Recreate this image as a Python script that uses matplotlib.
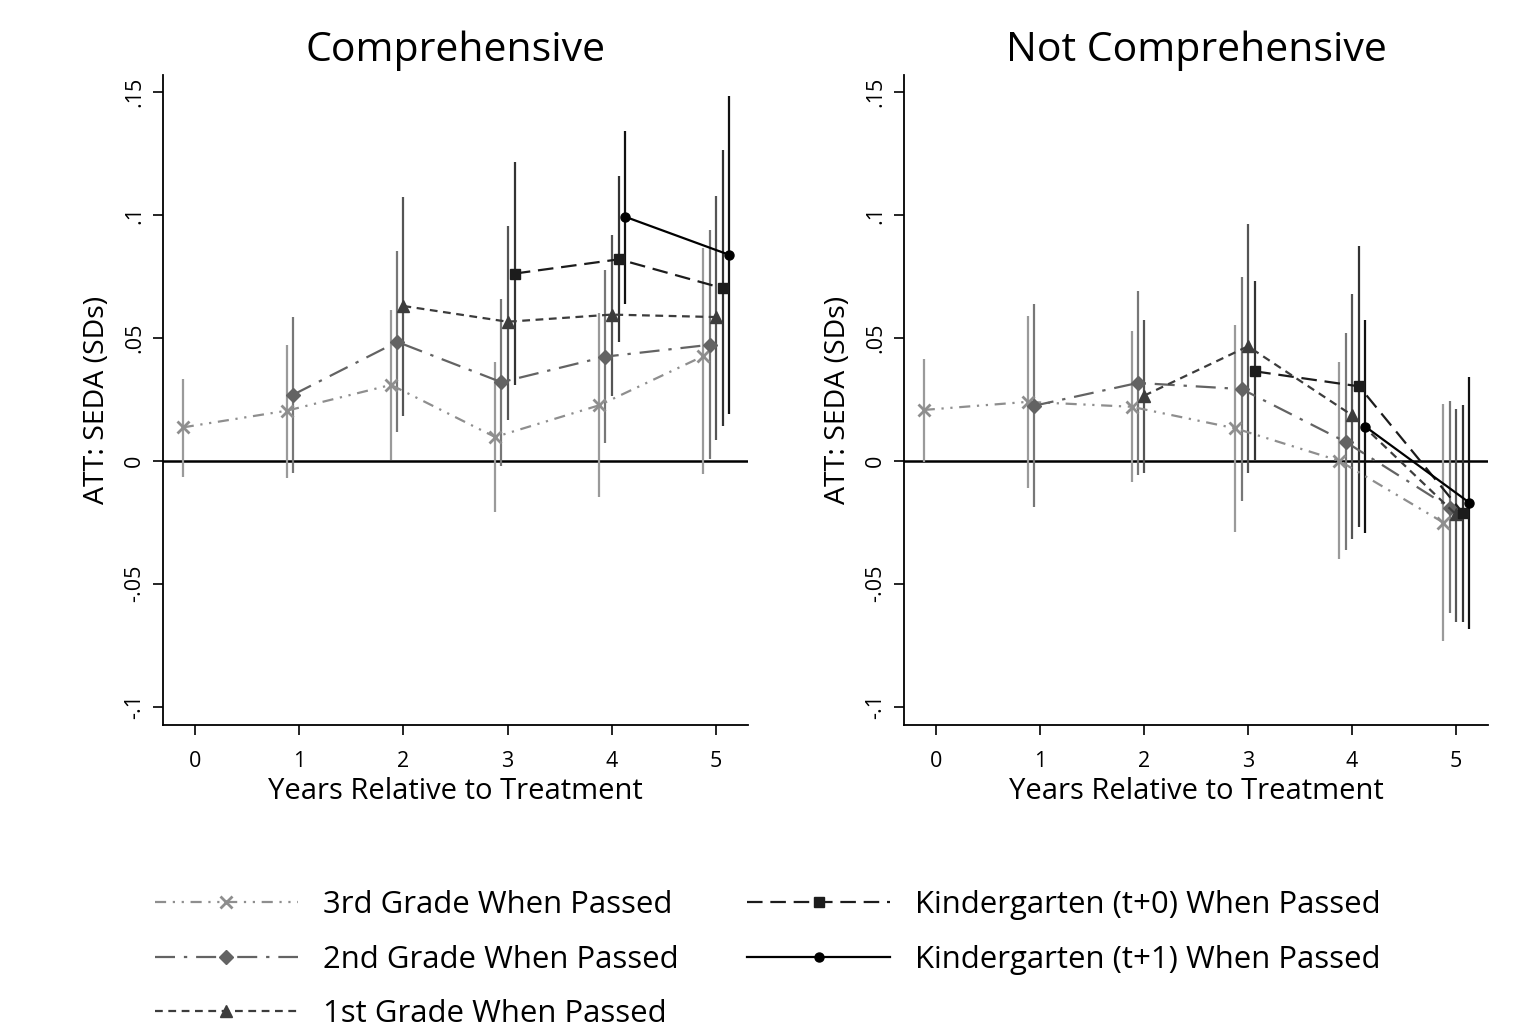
import matplotlib
matplotlib.use('Agg')
import matplotlib.pyplot as plt
from matplotlib.lines import Line2D

plt.rcParams['font.family'] = ['Open Sans', 'DejaVu Sans']

# ---------------- data ----------------
panel_titles = ["Comprehensive", "Not Comprehensive"]
series_labels = ["3rd Grade When Passed", "2nd Grade When Passed", "1st Grade When Passed",
                 "Kindergarten (t+0) When Passed", "Kindergarten (t+1) When Passed"]
xticks = [0, 1, 2, 3, 4, 5]
yticks = [-0.1, -0.05, 0, 0.05, 0.1, 0.15]
ytick_labels = ["-.1", "-.05", "0", ".05", ".1", ".15"]

years_g3 = [0, 1, 2, 3, 4, 5]
years_g2 = [1, 2, 3, 4, 5]
years_g1 = [2, 3, 4, 5]
years_k0 = [3, 4, 5]
years_k1 = [4, 5]

# Comprehensive
comp_g3 = [0.0136, 0.0204, 0.0309, 0.0097, 0.0226, 0.0426]
comp_g3_lo = [-0.0064, -0.0068, 0.0004, -0.0207, -0.0146, -0.0054]
comp_g3_hi = [0.0333, 0.0473, 0.0612, 0.0401, 0.0603, 0.0865]
comp_g2 = [0.0269, 0.0484, 0.0320, 0.0424, 0.0472]
comp_g2_lo = [-0.0050, 0.0117, -0.0019, 0.0072, 0.0007]
comp_g2_hi = [0.0586, 0.0852, 0.0657, 0.0777, 0.0939]
comp_g1 = [0.0630, 0.0566, 0.0595, 0.0585]
comp_g1_lo = [0.0181, 0.0167, 0.0263, 0.0083]
comp_g1_hi = [0.1072, 0.0954, 0.0920, 0.1079]
comp_k0 = [0.0762, 0.0820, 0.0702]
comp_k0_lo = [0.0310, 0.0484, 0.0143]
comp_k0_hi = [0.1215, 0.1158, 0.1265]
comp_k1 = [0.0993, 0.0838]
comp_k1_lo = [0.0639, 0.0190]
comp_k1_hi = [0.1344, 0.1484]

# Not comprehensive
nc_g3 = [0.0207, 0.0240, 0.0220, 0.0132, 0.0000, -0.0251]
nc_g3_lo = [-0.0003, -0.0109, -0.0088, -0.0288, -0.0401, -0.0734]
nc_g3_hi = [0.0414, 0.0588, 0.0530, 0.0553, 0.0401, 0.0231]
nc_g2 = [0.0224, 0.0317, 0.0292, 0.0077, -0.0190]
nc_g2_lo = [-0.0186, -0.0058, -0.0163, -0.0364, -0.0618]
nc_g2_hi = [0.0637, 0.0693, 0.0747, 0.0520, 0.0245]
nc_g1 = [0.0265, 0.0466, 0.0186, -0.0217]
nc_g1_lo = [-0.0050, -0.0048, -0.0317, -0.0656]
nc_g1_hi = [0.0573, 0.0965, 0.0678, 0.0211]
nc_k0 = [0.0364, 0.0303, -0.0213]
nc_k0_lo = [0.0003, -0.0268, -0.0656]
nc_k0_hi = [0.0730, 0.0876, 0.0227]
nc_k1 = [0.0139, -0.0170]
nc_k1_lo = [-0.0292, -0.0683]
nc_k1_hi = [0.0573, 0.0340]

# ---------------- styles ----------------
offsets = [-0.12, -0.06, 0.0, 0.07, 0.13]
line_colors = ['#8e8e8e', '#636363', '#3c3c3c', '#1c1c1c', '#000000']
ci_colors = ['#9a9a9a', '#777777', '#555555', '#333333', '#111111']
dashes = [(0, (5, 3, 1, 3, 1, 3)), (0, (9, 4, 1.5, 4)), (0, (3.5, 2.5)), (0, (7, 3.5)), '-']
markers = ['x', 'D', '^', 's', 'o']
msizes = [8, 7, 9, 6.5, 6.5]
mews = [2, 1, 1, 1, 1]

panels = [
    [(years_g3, comp_g3, comp_g3_lo, comp_g3_hi), (years_g2, comp_g2, comp_g2_lo, comp_g2_hi),
     (years_g1, comp_g1, comp_g1_lo, comp_g1_hi), (years_k0, comp_k0, comp_k0_lo, comp_k0_hi),
     (years_k1, comp_k1, comp_k1_lo, comp_k1_hi)],
    [(years_g3, nc_g3, nc_g3_lo, nc_g3_hi), (years_g2, nc_g2, nc_g2_lo, nc_g2_hi),
     (years_g1, nc_g1, nc_g1_lo, nc_g1_hi), (years_k0, nc_k0, nc_k0_lo, nc_k0_hi),
     (years_k1, nc_k1, nc_k1_lo, nc_k1_hi)],
]

fig = plt.figure(figsize=(15.26, 10.34), dpi=100)
axes_rects = [[0.1068, 0.2988, 0.3834, 0.6287], [0.5924, 0.2988, 0.3827, 0.6287]]

for p, rect in enumerate(axes_rects):
    ax = fig.add_axes(rect)
    ax.axhline(0, color='black', lw=1.8, zorder=1)
    for i, (yrs, est, lo, hi) in enumerate(panels[p]):
        xs = [y + offsets[i] for y in yrs]
        ax.vlines(xs, lo, hi, color=ci_colors[i], lw=1.6, zorder=2)
    for i, (yrs, est, lo, hi) in enumerate(panels[p]):
        xs = [y + offsets[i] for y in yrs]
        ax.plot(xs, est, color=line_colors[i], lw=1.6, linestyle=dashes[i],
                marker=markers[i], markersize=msizes[i], markeredgewidth=mews[i], zorder=3 + i)
    ax.set_xlim(-0.31, 5.31)
    ax.set_ylim(-0.1075, 0.157)
    ax.set_xticks(xticks)
    ax.set_xticklabels([str(t) for t in xticks], fontsize=15.5)
    ax.set_yticks(yticks)
    ax.set_yticklabels(ytick_labels, fontsize=15.5, rotation=90, va='center')
    ax.tick_params(axis='x', direction='out', length=7, width=1.2, pad=12)
    ax.tick_params(axis='y', direction='out', length=7, width=1.2, pad=6)
    for s in ['top', 'right']:
        ax.spines[s].set_visible(False)
    for s in ['left', 'bottom']:
        ax.spines[s].set_linewidth(1.3)
    ax.set_xlabel("Years Relative to Treatment", fontsize=21, labelpad=3)
    ax.set_ylabel("ATT: SEDA (SDs)", fontsize=20.5, labelpad=9)
    ax.set_title(panel_titles[p], fontsize=29.5, pad=10)

handles = [Line2D([], [], color=line_colors[i], lw=1.6, linestyle=dashes[i], marker=markers[i],
                  markersize=msizes[i], markeredgewidth=mews[i]) for i in range(5)]
fig.legend(handles, series_labels, loc='upper left', bbox_to_anchor=(0.1015, 0.139), ncol=2,
           frameon=False, fontsize=22.4, handlelength=4.6, handletextpad=0.8,
           columnspacing=2.2, labelspacing=0.78, numpoints=1, borderaxespad=0, borderpad=0)

fig.savefig('out.png', dpi=100)
